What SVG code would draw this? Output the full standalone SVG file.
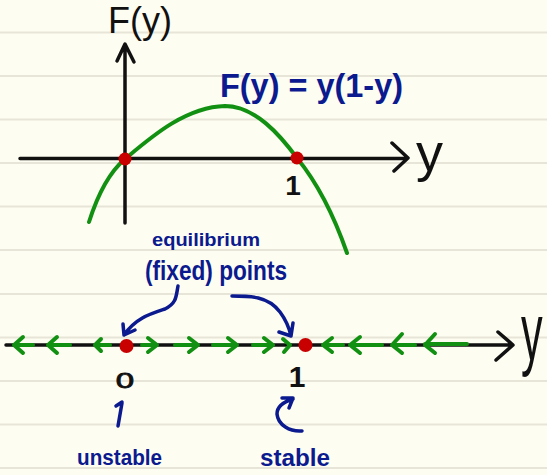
<svg xmlns="http://www.w3.org/2000/svg" width="547" height="475" viewBox="0 0 547 475">
<style>
.rule{stroke:#E7E4D8;stroke-width:2;fill:none}
.ax{stroke:#111;stroke-width:3.5;fill:none;stroke-linecap:round;stroke-linejoin:round}
.gr{stroke:#129012;stroke-width:4;fill:none;stroke-linecap:round;stroke-linejoin:round}
.bl{stroke:#0B1A8E;stroke-width:3.5;fill:none;stroke-linecap:round;stroke-linejoin:round}
.dot{fill:#C80000}
.tk{font-family:"Liberation Sans",Arial,sans-serif;fill:#111}
.tb{font-family:"Liberation Sans",Arial,sans-serif;fill:#0B1A8E;font-weight:bold}
</style>
<rect width="547" height="475" fill="#FEFDF1"/>
<g id="rules">
<path class="rule" d="M0,32.5H547M0,76H547M0,119.5H547M0,163H547M0,206.5H547M0,250H547M0,294H547M0,337.5H547M0,381H547M0,424.5H547M0,468H547"/>
</g>
<g id="top-plot">
<path class="ax" d="M125,223V45M117,61L125,44L134,62"/>
<path class="ax" d="M20,158.5H407M392,143L408,158L394,171"/>
<path class="gr" d="M89,222C96,200 106,175 125,159C150,138 185,107 225,106C255,106 280,135 297,158C315,180 332,210 347,253"/>
<circle class="dot" cx="125" cy="159" r="6.5"/>
<circle class="dot" cx="297" cy="158" r="6.5"/>
<text class="tk" x="108" y="33" font-size="36">F(y)</text>
<text class="tk" x="416" y="171" font-size="54">y</text>
<text class="tk" x="293" y="195" font-size="28" font-weight="bold" text-anchor="middle">1</text>
<text class="tb" x="220" y="97" font-size="34" textLength="183" lengthAdjust="spacingAndGlyphs">F(y) = y(1-y)</text>
</g>
<g id="phase-line">
<path class="ax" d="M6,345H512M498,332L513,345L496,360"/>
<text class="tk" transform="translate(521,360) scale(0.9,1.7)" font-size="48">y</text>
<g id="flow-arrows">
<path class="gr" d="M14,345H33M23,337L14,345L23,353"/>
<path class="gr" d="M48,345H70M57,337L48,345L57,353"/>
<path class="gr" d="M95,345H110M101,339L95,345L101,351"/>
<path class="gr" d="M142,345H157M148,338L157,345L148,352"/>
<path class="gr" d="M175,345H198M189,338L198,345L189,352"/>
<path class="gr" d="M213,345H237M228,338L237,345L228,352"/>
<path class="gr" d="M253,345H273M264,338L273,345L264,352"/>
<path class="gr" d="M283,339L290,345L284,352"/>
<path class="gr" d="M323,345H343M332,338L323,345L332,352"/>
<path class="gr" d="M350,345H382M360,337L350,345L360,353"/>
<path class="gr" d="M392,345H415M402,334L392,345L402,353"/>
<path class="gr" d="M425,344H467M435,334L425,345L435,353"/>
</g>
<circle class="dot" cx="126.5" cy="346" r="7"/>
<circle class="dot" cx="305.5" cy="345" r="7"/>
<text class="tk" transform="translate(125,388) scale(1.5,1)" font-size="22" text-anchor="middle" stroke="#111" stroke-width="0.8">0</text>
<text class="tk" x="297" y="387" font-size="30" font-weight="bold" text-anchor="middle">1</text>
</g>
<g id="annotations">
<text class="tb" x="152" y="246" font-size="18" textLength="108" lengthAdjust="spacingAndGlyphs">equilibrium</text>
<text class="tb" x="145" y="280" font-size="28" textLength="142" lengthAdjust="spacingAndGlyphs">(fixed) points</text>
<path class="bl" d="M178,286C176,296 177,303 165,309C150,314 136,318 124,335M123,324L124,335L135,330"/>
<path class="bl" d="M232,296C250,296 268,296 280,312C286,320 289,327 291,336M279,332L291,336L293,323"/>
<path class="bl" d="M118,426L122,403M116,406L122,402"/>
<path class="bl" d="M302,431C290,432 278,425 277,414C277,407 283,402 293,399M282,398L293,398L289,408"/>
<text class="tb" x="77" y="465" font-size="22" textLength="85" lengthAdjust="spacingAndGlyphs">unstable</text>
<text class="tb" x="260" y="466" font-size="24" textLength="70" lengthAdjust="spacingAndGlyphs">stable</text>
</g>
</svg>
